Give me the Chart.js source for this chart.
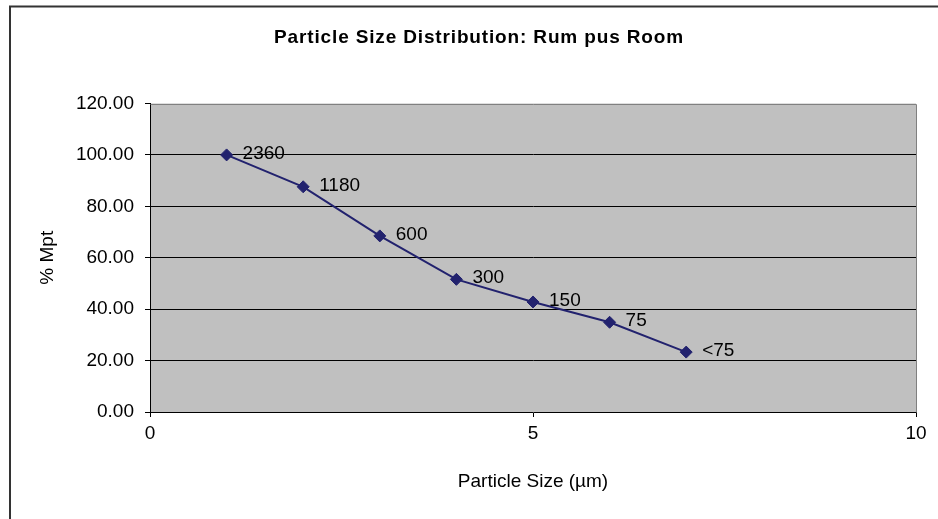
<!DOCTYPE html>
<html>
<head>
<meta charset="utf-8">
<script src="https://cdn.jsdelivr.net/npm/chart.js@4"></script>
<style>
html,body{margin:0;padding:0;background:#fff;}
canvas{display:block;}
</style>
</head>
<body>
<canvas id="c" width="938" height="519"></canvas>
<script>
const chartTitle = "Particle Size Distribution: Rum pus Room";
const xTitle = "Particle Size (µm)";
const yTitle = "% Mpt";
const xValues = [1, 2, 3, 4, 5, 6, 7];
const mptValues = [100.0, 87.6, 68.5, 51.6, 42.8, 34.9, 23.3];
const sizeLabels = ["2360", "1180", "600", "300", "150", "75", "<75"];
const yTicks = [0, 20, 40, 60, 80, 100, 120];
const xTicks = [0, 5, 10];

const FONT = "'Liberation Sans', Arial, sans-serif";

const framePlugin = {
  id: 'frame',
  beforeDraw(chart) {
    const {ctx, chartArea: a} = chart;
    ctx.save();
    ctx.fillStyle = '#ffffff';
    ctx.fillRect(0, 0, chart.width, chart.height);
    ctx.fillStyle = '#C0C0C0';
    ctx.fillRect(a.left, a.top, a.right - a.left, a.bottom - a.top);
    // outer frame
    ctx.strokeStyle = '#333333';
    ctx.lineWidth = 2;
    ctx.beginPath();
    ctx.moveTo(10, chart.height + 2);
    ctx.lineTo(10, 6.5);
    ctx.lineTo(chart.width + 2, 6.5);
    ctx.stroke();
    // title
    ctx.fillStyle = '#000';
    ctx.font = "bold 19px " + FONT;
    ctx.textAlign = 'center';
    ctx.textBaseline = 'alphabetic';
    try { ctx.letterSpacing = '0.85px'; } catch(e) {}
    ctx.fillText(chartTitle, 479, 43);
    try { ctx.letterSpacing = '0px'; } catch(e) {}
    ctx.restore();
  },
  beforeDatasetsDraw(chart) {
    const {ctx, chartArea: a} = chart;
    ctx.save();
    ctx.strokeStyle = '#808080';
    ctx.lineWidth = 1;
    ctx.beginPath();
    ctx.moveTo(Math.round(a.left) + 0.5, Math.round(a.top) + 0.5);
    ctx.lineTo(Math.round(a.right) + 0.5, Math.round(a.top) + 0.5);
    ctx.lineTo(Math.round(a.right) + 0.5, Math.round(a.bottom) + 0.5);
    ctx.stroke();
    ctx.restore();
  },
  afterDatasetsDraw(chart) {
    const {ctx} = chart;
    const meta = chart.getDatasetMeta(0);
    ctx.save();
    ctx.fillStyle = '#000';
    ctx.font = "19px " + FONT;
    ctx.textAlign = 'left';
    ctx.textBaseline = 'middle';
    meta.data.forEach((pt, i) => {
      ctx.fillText(sizeLabels[i], pt.x + 16, pt.y - 1.5);
    });
    ctx.restore();
  }
};

new Chart(document.getElementById('c'), {
  type: 'scatter',
  data: {
    datasets: [{
      data: xValues.map((x, i) => ({x: x, y: mptValues[i]})),
      showLine: true,
      borderColor: '#22226E',
      backgroundColor: '#22226E',
      borderWidth: 2,
      pointStyle: 'rectRot',
      pointRadius: 6,
      pointBorderWidth: 1,
      pointHoverRadius: 6,
      tension: 0
    }]
  },
  options: {
    responsive: false,
    animation: false,
    events: [],
    layout: { padding: { top: 103.5, left: 0, right: 22, bottom: 0 } },
    plugins: {
      legend: { display: false },
      title: { display: false },
      tooltip: { enabled: false }
    },
    scales: {
      x: {
        type: 'linear',
        min: 0, max: 10,
        afterBuildTicks(scale) { scale.ticks = xTicks.map(v => ({value: v})); },
        afterFit(scale) { scale.height = 107; },
        ticks: {
          color: '#000',
          font: { family: FONT, size: 19 },
          padding: 5,
          maxRotation: 0,
          callback: v => String(v)
        },
        grid: {
          drawOnChartArea: false,
          drawTicks: true,
          tickLength: 5,
          color: '#000',
          tickColor: '#000'
        },
        border: { display: true, color: '#000', width: 1 },
        title: {
          display: true,
          text: xTitle,
          color: '#000',
          font: { family: FONT, size: 19 },
          padding: { top: 0, bottom: 26 }
        }
      },
      y: {
        type: 'linear',
        min: 0, max: 120,
        afterBuildTicks(scale) { scale.ticks = yTicks.map(v => ({value: v})); },
        afterFit(scale) { scale.width = 150; },
        ticks: {
          color: '#000',
          font: { family: FONT, size: 19 },
          padding: 11,
          callback: v => Number(v).toFixed(2)
        },
        grid: {
          drawTicks: true,
          tickLength: 5,
          color: ctx => (ctx.tick && (ctx.tick.value === 120 || ctx.tick.value === 0)) ? 'rgba(0,0,0,0)' : '#000',
          tickColor: '#000'
        },
        border: { display: true, color: '#000', width: 1 },
        title: {
          display: true,
          text: yTitle,
          color: '#000',
          font: { family: FONT, size: 19 },
          padding: { top: 36, bottom: 0 }
        }
      }
    }
  },
  plugins: [framePlugin]
});
</script>
</body>
</html>
